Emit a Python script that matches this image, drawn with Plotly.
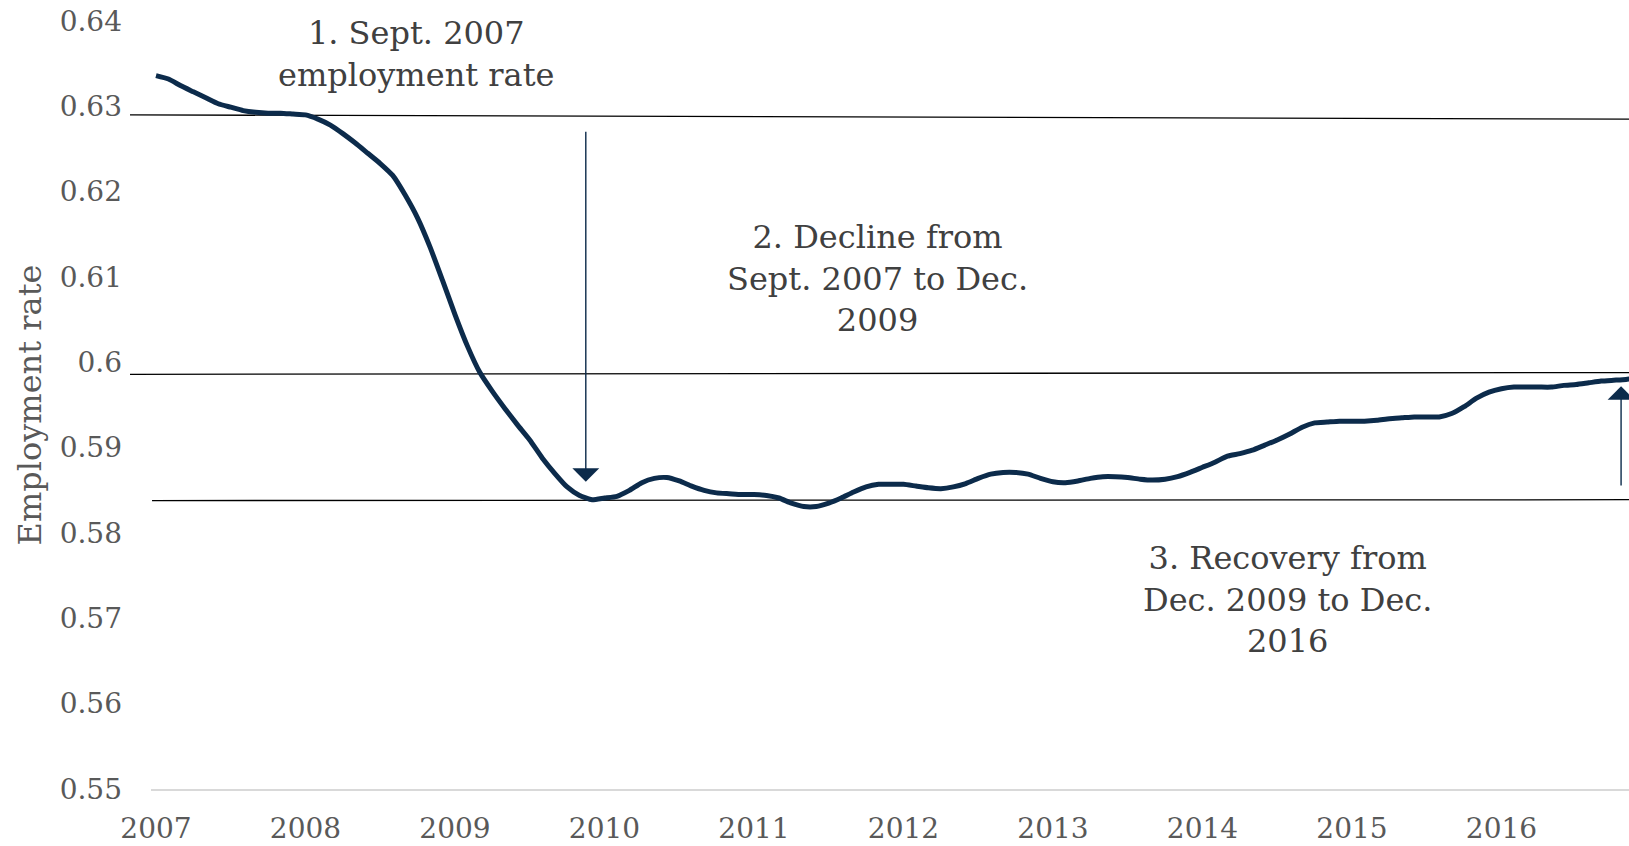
import plotly.graph_objects as go

# ---- data (monthly employment rate, Jan 2007 .. Dec 2016) ----
years = list(range(2007, 2017))
tick_labels = [str(y) for y in years]
y_ticks = [0.55, 0.56, 0.57, 0.58, 0.59, 0.60, 0.61, 0.62, 0.63, 0.64]
y_tick_labels = ["0.55", "0.56", "0.57", "0.58", "0.59", "0.6", "0.61", "0.62", "0.63", "0.64"]

employment_rate = [
    0.6336, 0.6332, 0.6324, 0.6317, 0.6310, 0.6303, 0.6299, 0.6295, 0.6293, 0.6292, 0.6292, 0.6291,  # 2007
    0.6290, 0.6285, 0.6278, 0.6268, 0.6257, 0.6245, 0.6233, 0.6219, 0.6196, 0.6169, 0.6135, 0.6096,  # 2008
    0.6056, 0.6019, 0.5988, 0.5966, 0.5946, 0.5927, 0.5909, 0.5888, 0.5870, 0.5854, 0.5844, 0.5839,  # 2009
    0.5841, 0.5843, 0.5850, 0.5859, 0.5864, 0.5865, 0.5861, 0.5855, 0.5850, 0.5847, 0.5846, 0.5845,  # 2010
    0.5845, 0.5844, 0.5841, 0.5835, 0.5831, 0.5831, 0.5835, 0.5841, 0.5848, 0.5854, 0.5857, 0.5857,  # 2011
    0.5857, 0.5855, 0.5853, 0.5852, 0.5854, 0.5858, 0.5864, 0.5869, 0.5871, 0.5871, 0.5869, 0.5864,  # 2012
    0.5860, 0.5859, 0.5861, 0.5864, 0.5866, 0.5866, 0.5865, 0.5863, 0.5862, 0.5863, 0.5866, 0.5871,  # 2013
    0.5877, 0.5883, 0.5890, 0.5893, 0.5897, 0.5903, 0.5909, 0.5916, 0.5924, 0.5929, 0.5930, 0.5931,  # 2014
    0.5931, 0.5931, 0.5932, 0.5934, 0.5935, 0.5936, 0.5936, 0.5936, 0.5940, 0.5948, 0.5958, 0.5965,  # 2015
    0.5969, 0.5971, 0.5971, 0.5971, 0.5971, 0.5973, 0.5974, 0.5976, 0.5978, 0.5979, 0.5980, 0.5982,  # 2016
]
months = [2007 + i / 12 for i in range(len(employment_rate))]

# reference levels (drawn lines): Sept 2007 level, Dec 2016 level, Dec 2009 level
ref_level_left = [0.6290, 0.5986, 0.5838]
ref_level_right = [0.6285, 0.5988, 0.5839]

# arrows: decline (Sept 2007 level -> Dec 2009 low) and recovery
decline_arrow = {"x": 2009.875, "from": 0.6272, "to": 0.5860}
recovery_arrow = {"x": 2016.80, "from": 0.5854, "to": 0.5972}

notes = [
    {"text": "1. Sept. 2007<br>employment rate", "x": 2008.739, "y": 0.6361},
    {"text": "2. Decline from<br>Sept. 2007 to Dec.<br>2009", "x": 2011.829, "y": 0.6098},
    {"text": "3. Recovery from<br>Dec. 2009 to Dec.<br>2016", "x": 2014.572, "y": 0.5722},
]

Y_RANGE = [0.55, 0.64]
W, H = 1629, 846
M = dict(l=151, r=0, t=21, b=57)
px_per_unit = (H - M["t"] - M["b"]) / (Y_RANGE[1] - Y_RANGE[0])

NAVY = "#0c2b4b"
FONT = "DejaVu Serif"

fig = go.Figure()
fig.add_trace(go.Scatter(
    x=months, y=employment_rate, mode="lines",
    line=dict(color=NAVY, width=5, shape="spline", smoothing=0.5),
    showlegend=False, hoverinfo="skip",
))

line_starts = [-0.0142, -0.0142, 0.0007]
for ys, ye, xs in zip(ref_level_left, ref_level_right, line_starts):
    fig.add_shape(type="line", xref="paper", yref="y", x0=xs, x1=1, y0=ys, y1=ye,
                  line=dict(color="black", width=1.3), layer="below")

for arr in (decline_arrow, recovery_arrow):
    fig.add_annotation(x=arr["x"], y=arr["to"], xref="x", yref="y",
                       ax=0, ay=(arr["to"] - arr["from"]) * px_per_unit,
                       text="", showarrow=True, arrowhead=1, arrowsize=3.2,
                       arrowwidth=1.4, arrowcolor=NAVY, standoff=0)

for n in notes:
    fig.add_annotation(x=n["x"], y=n["y"], xref="x", yref="y", text=n["text"],
                       showarrow=False, align="center",
                       font=dict(family=FONT, size=32, color="#404040"))

fig.update_layout(
    width=W, height=H, margin=M,
    paper_bgcolor="white", plot_bgcolor="white",
    font=dict(family=FONT, color="#595959"),
    xaxis=dict(range=[2006.9666, 2016.853], tickvals=years, ticktext=tick_labels,
               showgrid=False, zeroline=False, showline=True, linecolor="#d9d9d9",
               linewidth=1.5, tickfont=dict(size=28, color="#595959"),
               ticks="", ticklabelstandoff=14, ticklabeloverflow="allow"),
    yaxis=dict(range=Y_RANGE, tickvals=y_ticks, ticktext=y_tick_labels,
               showgrid=False, zeroline=False, showline=False,
               tickfont=dict(size=28, color="#595959"), ticklabelstandoff=28,
               ticklabeloverflow="allow",
               title=dict(text="Employment rate", standoff=8,
                          font=dict(family=FONT, size=32, color="#595959"))),
)

fig.write_html("out.html", config={"displayModeBar": False},
               post_script="document.body.style.margin='0';")
